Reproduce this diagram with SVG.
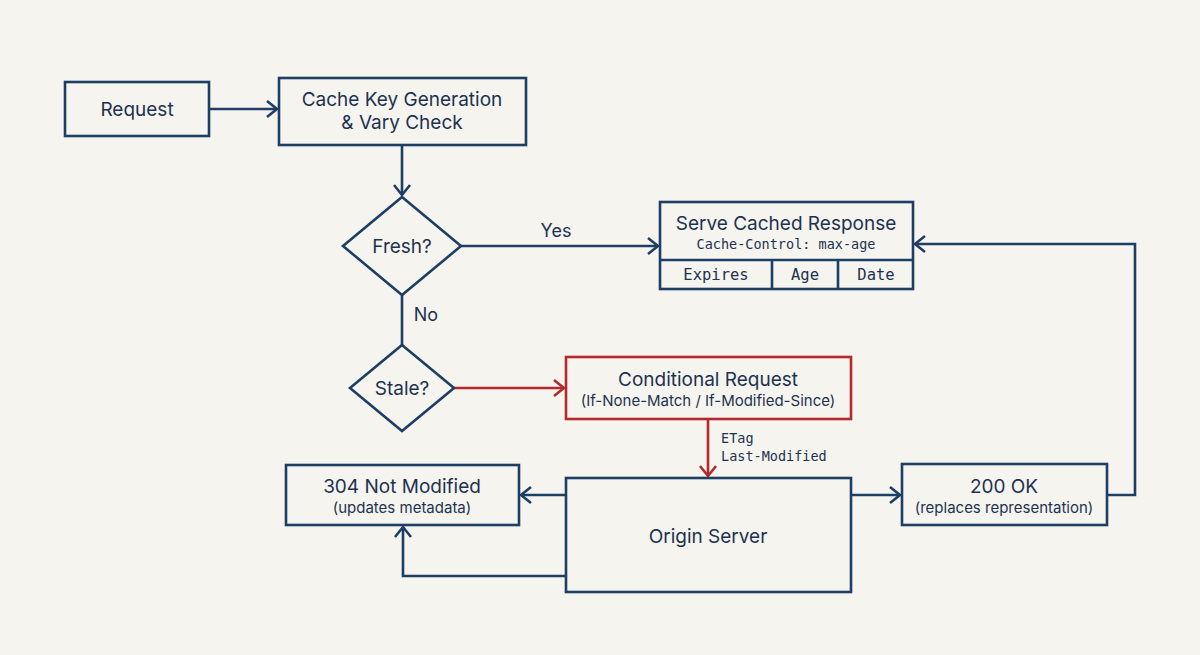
<svg xmlns="http://www.w3.org/2000/svg" width="1200" height="655" viewBox="0 0 1200 655">
<style>
.b{fill:none;stroke:#1d3f66;stroke-width:2.6}
.r{fill:none;stroke:#b3292c;stroke-width:2.6}
.t{font-family:"Inter","Liberation Sans",sans-serif;fill:#1d3250;text-anchor:middle}
.m{font-family:"DejaVu Sans Mono","Liberation Mono",monospace;fill:#1d3250}
.c{fill:none;stroke:#1d3f66;stroke-width:2.6}
.cr{fill:none;stroke:#b3292c;stroke-width:2.6}
</style>
<defs>
<marker id="ab" markerWidth="16" markerHeight="20" refX="12" refY="10" orient="auto" markerUnits="userSpaceOnUse"><path d="M2,2 L12,10 L2,18" fill="none" stroke="#1d3f66" stroke-width="2.6"/></marker>
<marker id="ar" markerWidth="16" markerHeight="20" refX="12" refY="10" orient="auto" markerUnits="userSpaceOnUse"><path d="M2,2 L12,10 L2,18" fill="none" stroke="#b3292c" stroke-width="2.6"/></marker>
</defs>
<rect width="1200" height="655" fill="#f6f4ef"/>
<g id="connectors">
<path class="c" d="M209,109 H277" marker-end="url(#ab)"/>
<path class="c" d="M402,145 V195" marker-end="url(#ab)"/>
<path class="c" d="M461,246 H658" marker-end="url(#ab)"/>
<text class="t" x="556" y="237" font-size="18">Yes</text>
<path class="c" d="M402,295 V345"/>
<text class="t" x="426" y="321" font-size="18">No</text>
<path class="cr" d="M454,388 H564" marker-end="url(#ar)"/>
<path class="cr" d="M708,419 V476" marker-end="url(#ar)"/>
<text class="m" x="721" y="443" font-size="13.5">ETag</text>
<text class="m" x="721" y="461" font-size="13.5">Last-Modified</text>
<path class="c" d="M566,495 H521" marker-end="url(#ab)"/>
<path class="c" d="M566,576 H403 V527" marker-end="url(#ab)"/>
<path class="c" d="M851,495 H900" marker-end="url(#ab)"/>
<path class="c" d="M1107,495 H1135 V244 H915" marker-end="url(#ab)"/>
</g>
<g id="request"><rect class="b" x="65" y="82" width="144" height="54"/><text class="t" x="137" y="116" font-size="19">Request</text></g>
<g id="cachekey"><rect class="b" x="279" y="78" width="247" height="67"/><text class="t" x="402" y="106" font-size="19">Cache Key Generation</text><text class="t" x="402" y="129" font-size="19">&amp; Vary Check</text></g>
<g id="fresh"><polygon class="b" points="402,197 461,246 402,295 343,246"/><text class="t" x="402" y="253" font-size="19">Fresh?</text></g>
<g id="serve"><rect class="b" x="660" y="202" width="253" height="87"/><line class="b" x1="660" y1="260" x2="913" y2="260"/><line class="b" x1="772" y1="260" x2="772" y2="289"/><line class="b" x1="838" y1="260" x2="838" y2="289"/><text class="t" x="786" y="230" font-size="19">Serve Cached Response</text><text class="m" x="786" y="249" font-size="13.5" text-anchor="middle">Cache-Control: max-age</text><text class="m" x="716" y="280" font-size="15.5" text-anchor="middle">Expires</text><text class="m" x="805" y="280" font-size="15.5" text-anchor="middle">Age</text><text class="m" x="876" y="280" font-size="15.5" text-anchor="middle">Date</text></g>
<g id="stale"><polygon class="b" points="402,345 454,388 402,431 350,388"/><text class="t" x="402" y="395" font-size="19">Stale?</text></g>
<g id="conditional"><rect class="r" x="566" y="357" width="285" height="62"/><text class="t" x="708" y="386" font-size="19">Conditional Request</text><text class="t" x="708" y="406" font-size="15">(If-None-Match / If-Modified-Since)</text></g>
<g id="origin"><rect class="b" x="566" y="478" width="285" height="114"/><text class="t" x="708" y="543" font-size="19">Origin Server</text></g>
<g id="notmodified"><rect class="b" x="286" y="465" width="233" height="60"/><text class="t" x="402" y="493" font-size="19">304 Not Modified</text><text class="t" x="402" y="513" font-size="15">(updates metadata)</text></g>
<g id="ok200"><rect class="b" x="902" y="464" width="205" height="61"/><text class="t" x="1004" y="493" font-size="19">200 OK</text><text class="t" x="1004" y="513" font-size="15">(replaces representation)</text></g>
</svg>
